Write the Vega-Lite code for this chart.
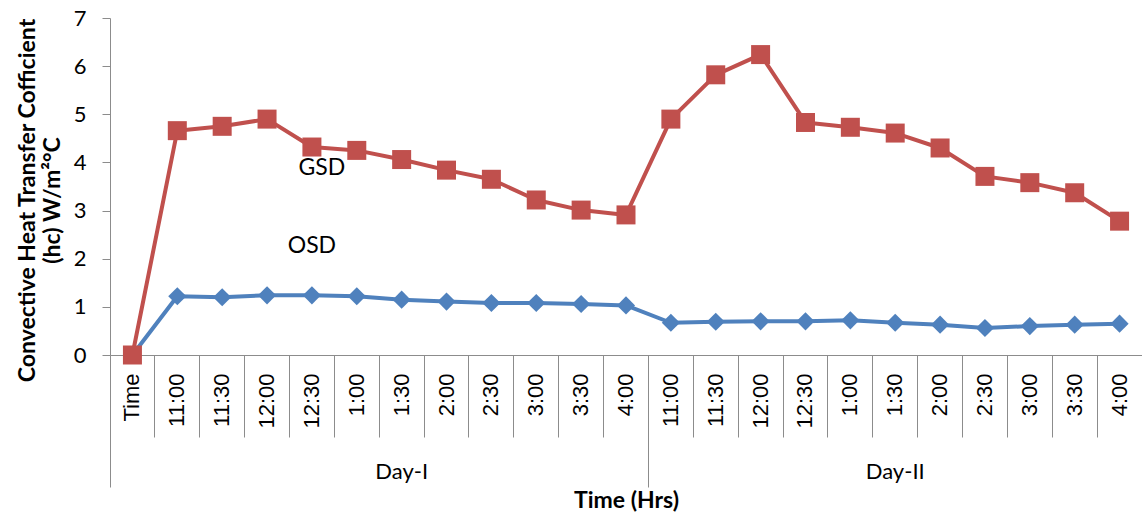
{
  "$schema": "https://vega.github.io/schema/vega-lite/v6.json",
  "width": 1032,
  "height": 337,
  "autosize": {"type": "none"},
  "padding": {"left": 110, "top": 18, "right": 0, "bottom": 158},
  "background": "white",
  "config": {
    "view": {"stroke": null},
    "axis": {"grid": false, "domainColor": "#8C8C8C", "tickColor": "#8C8C8C", "labelColor": "#000000", "titleColor": "#000000"}
  },
  "datasets": {
    "main": [
      {"t": "Time", "s": "OSD", "v": 0},
      {"t": "I 11:00", "s": "OSD", "v": 1.22},
      {"t": "I 11:30", "s": "OSD", "v": 1.2},
      {"t": "I 12:00", "s": "OSD", "v": 1.24},
      {"t": "I 12:30", "s": "OSD", "v": 1.24},
      {"t": "I 1:00", "s": "OSD", "v": 1.22},
      {"t": "I 1:30", "s": "OSD", "v": 1.15},
      {"t": "I 2:00", "s": "OSD", "v": 1.11},
      {"t": "I 2:30", "s": "OSD", "v": 1.08},
      {"t": "I 3:00", "s": "OSD", "v": 1.08},
      {"t": "I 3:30", "s": "OSD", "v": 1.06},
      {"t": "I 4:00", "s": "OSD", "v": 1.03},
      {"t": "II 11:00", "s": "OSD", "v": 0.67},
      {"t": "II 11:30", "s": "OSD", "v": 0.69},
      {"t": "II 12:00", "s": "OSD", "v": 0.7},
      {"t": "II 12:30", "s": "OSD", "v": 0.7},
      {"t": "II 1:00", "s": "OSD", "v": 0.72},
      {"t": "II 1:30", "s": "OSD", "v": 0.67},
      {"t": "II 2:00", "s": "OSD", "v": 0.63},
      {"t": "II 2:30", "s": "OSD", "v": 0.56},
      {"t": "II 3:00", "s": "OSD", "v": 0.6},
      {"t": "II 3:30", "s": "OSD", "v": 0.63},
      {"t": "II 4:00", "s": "OSD", "v": 0.65},
      {"t": "Time", "s": "GSD", "v": 0},
      {"t": "I 11:00", "s": "GSD", "v": 4.66},
      {"t": "I 11:30", "s": "GSD", "v": 4.75},
      {"t": "I 12:00", "s": "GSD", "v": 4.9},
      {"t": "I 12:30", "s": "GSD", "v": 4.32},
      {"t": "I 1:00", "s": "GSD", "v": 4.25},
      {"t": "I 1:30", "s": "GSD", "v": 4.06},
      {"t": "I 2:00", "s": "GSD", "v": 3.84},
      {"t": "I 2:30", "s": "GSD", "v": 3.65},
      {"t": "I 3:00", "s": "GSD", "v": 3.22},
      {"t": "I 3:30", "s": "GSD", "v": 3.01},
      {"t": "I 4:00", "s": "GSD", "v": 2.91},
      {"t": "II 11:00", "s": "GSD", "v": 4.9},
      {"t": "II 11:30", "s": "GSD", "v": 5.82},
      {"t": "II 12:00", "s": "GSD", "v": 6.24},
      {"t": "II 12:30", "s": "GSD", "v": 4.83},
      {"t": "II 1:00", "s": "GSD", "v": 4.73},
      {"t": "II 1:30", "s": "GSD", "v": 4.61},
      {"t": "II 2:00", "s": "GSD", "v": 4.3},
      {"t": "II 2:30", "s": "GSD", "v": 3.71},
      {"t": "II 3:00", "s": "GSD", "v": 3.58},
      {"t": "II 3:30", "s": "GSD", "v": 3.37},
      {"t": "II 4:00", "s": "GSD", "v": 2.78}
    ]
  },
  "resolve": {"axis": {"x": "independent"}},
  "layer": [
    {
      "data": {"name": "main"},
      "mark": {"type": "line", "strokeWidth": 4, "strokeJoin": "round"},
      "encoding": {
        "x": {
          "field": "t", "type": "ordinal",
          "scale": {"type": "band", "paddingInner": 0, "paddingOuter": 0, "domain": ["Time", "I 11:00", "I 11:30", "I 12:00", "I 12:30", "I 1:00", "I 1:30", "I 2:00", "I 2:30", "I 3:00", "I 3:30", "I 4:00", "II 11:00", "II 11:30", "II 12:00", "II 12:30", "II 1:00", "II 1:30", "II 2:00", "II 2:30", "II 3:00", "II 3:30", "II 4:00"]},
          "axis": {"orient": "bottom", "title": null, "domain": true, "ticks": false, "tickSize": 0, "labelAngle": -90, "labelPadding": 18, "labelFont": "Liberation Sans", "labelFontSize": 22, "labelOverlap": false, "labelExpr": "indexof(datum.label, ' ') > 0 ? split(datum.label, ' ')[1] : datum.label"}
        },
        "y": {
          "field": "v", "type": "quantitative",
          "scale": {"domain": [0, 7], "nice": false},
          "axis": {"orient": "left", "title": ["Convective Heat Transfer Cofficient", "(hc) W/m²°C"], "titleFont": "Lato", "titleFontSize": 23, "titleFontWeight": "bold", "titleAngle": -90, "titleX": -83, "titleY": 182, "titleAlign": "center", "titleBaseline": "middle", "titleLineHeight": 25, "values": [0, 1, 2, 3, 4, 5, 6, 7], "tickSize": 8, "labelPadding": 16, "labelFont": "Lato", "labelFontSize": 22}
        },
        "color": {"field": "s", "type": "nominal", "scale": {"domain": ["OSD", "GSD"], "range": ["#4F81BD", "#C0504D"]}, "legend": null}
      }
    },
    {
      "data": {"name": "main"},
      "mark": {"type": "point", "filled": true, "opacity": 1},
      "encoding": {
        "x": {
          "field": "t", "type": "ordinal",
          "scale": {"type": "band", "paddingInner": 0, "paddingOuter": 0, "domain": ["Time", "I 11:00", "I 11:30", "I 12:00", "I 12:30", "I 1:00", "I 1:30", "I 2:00", "I 2:30", "I 3:00", "I 3:30", "I 4:00", "II 11:00", "II 11:30", "II 12:00", "II 12:30", "II 1:00", "II 1:30", "II 2:00", "II 2:30", "II 3:00", "II 3:30", "II 4:00"]},
          "axis": {"orient": "bottom", "title": null, "labels": false, "domain": false, "ticks": true, "tickSize": 82, "bandPosition": 0}
        },
        "y": {"field": "v", "type": "quantitative", "scale": {"domain": [0, 7], "nice": false}},
        "color": {"field": "s", "type": "nominal", "scale": {"domain": ["OSD", "GSD"], "range": ["#4F81BD", "#C0504D"]}, "legend": null},
        "shape": {"field": "s", "type": "nominal", "scale": {"domain": ["OSD", "GSD"], "range": ["diamond", "square"]}, "legend": null},
        "size": {"field": "s", "type": "ordinal", "scale": {"domain": ["OSD", "GSD"], "range": [330, 361]}, "legend": null}
      }
    },
    {
      "data": {"values": [{"t": "I 12:30", "v": 3.88, "label": "GSD"}]},
      "mark": {"type": "text", "font": "Lato", "fontSize": 23, "color": "#000000", "align": "center", "baseline": "middle", "dx": 10},
      "encoding": {
        "x": {
          "field": "t", "type": "ordinal",
          "scale": {"type": "band", "paddingInner": 0, "paddingOuter": 0, "domain": ["Time", "I 11:00", "I 11:30", "I 12:00", "I 12:30", "I 1:00", "I 1:30", "I 2:00", "I 2:30", "I 3:00", "I 3:30", "I 4:00", "II 11:00", "II 11:30", "II 12:00", "II 12:30", "II 1:00", "II 1:30", "II 2:00", "II 2:30", "II 3:00", "II 3:30", "II 4:00"]},
          "axis": {"orient": "bottom", "values": ["Time", "II 11:00"], "bandPosition": 0, "tickSize": 132, "labels": false, "domain": false, "title": "Time (Hrs)", "titleFont": "Lato", "titleFontSize": 23, "titleFontWeight": "bold", "titleX": 516, "titleY": 152, "titleBaseline": "alphabetic", "titleAlign": "center", "titleAngle": 0}
        },
        "y": {"field": "v", "type": "quantitative", "scale": {"domain": [0, 7], "nice": false}},
        "text": {"field": "label"}
      }
    },
    {
      "data": {"values": [{"t": "I 12:30", "v": 2.26, "label": "OSD"}]},
      "mark": {"type": "text", "font": "Lato", "fontSize": 23, "color": "#000000", "align": "center", "baseline": "middle"},
      "encoding": {
        "x": {
          "field": "t", "type": "ordinal",
          "scale": {"type": "band", "paddingInner": 0, "paddingOuter": 0, "domain": ["Time", "I 11:00", "I 11:30", "I 12:00", "I 12:30", "I 1:00", "I 1:30", "I 2:00", "I 2:30", "I 3:00", "I 3:30", "I 4:00", "II 11:00", "II 11:30", "II 12:00", "II 12:30", "II 1:00", "II 1:30", "II 2:00", "II 2:30", "II 3:00", "II 3:30", "II 4:00"]},
          "axis": {"orient": "bottom", "values": ["I 1:30"], "bandPosition": 0, "ticks": false, "tickSize": 0, "domain": false, "labelExpr": "'Day-I'", "labelPadding": 123, "labelBaseline": "alphabetic", "labelAngle": 0, "labelAlign": "center", "labelFont": "Lato", "labelFontSize": 22, "title": null}
        },
        "y": {"field": "v", "type": "quantitative", "scale": {"domain": [0, 7], "nice": false}},
        "text": {"field": "label"}
      }
    },
    {
      "data": {"name": "main"},
      "mark": {"type": "point", "opacity": 0},
      "encoding": {
        "x": {
          "field": "t", "type": "ordinal",
          "scale": {"type": "band", "paddingInner": 0, "paddingOuter": 0, "domain": ["Time", "I 11:00", "I 11:30", "I 12:00", "I 12:30", "I 1:00", "I 1:30", "I 2:00", "I 2:30", "I 3:00", "I 3:30", "I 4:00", "II 11:00", "II 11:30", "II 12:00", "II 12:30", "II 1:00", "II 1:30", "II 2:00", "II 2:30", "II 3:00", "II 3:30", "II 4:00"]},
          "axis": {"orient": "bottom", "values": ["II 1:30"], "bandPosition": 0.5, "ticks": false, "tickSize": 0, "domain": false, "labelExpr": "'Day-II'", "labelPadding": 123, "labelBaseline": "alphabetic", "labelAngle": 0, "labelAlign": "center", "labelFont": "Lato", "labelFontSize": 22, "title": null}
        },
        "y": {"field": "v", "type": "quantitative", "scale": {"domain": [0, 7], "nice": false}}
      }
    }
  ]
}
